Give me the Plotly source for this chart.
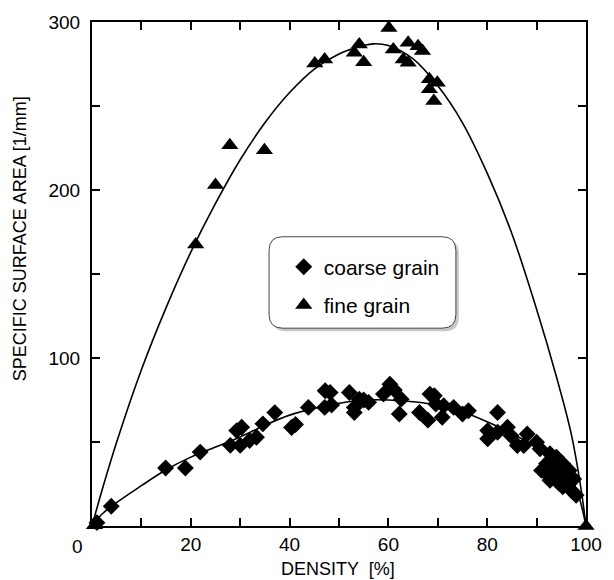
import plotly.graph_objects as go

# ---------------- data ----------------
coarse_x = [1, 3.9, 14.9, 18.9, 21.9, 28, 29.3, 30.3, 30, 31.9, 33.3, 34.6, 37, 40.4, 41.2,
            43.8, 47.2, 48.2, 47.1, 48.5, 52.1, 53.1, 54.1, 56, 53.1, 55, 59, 60.3, 61.2,
            62.6, 62.2, 66.3, 68.4, 69.3, 68, 70.9, 71.2, 69.6, 73.2, 75, 76.2, 82.1, 80.1,
            80.1, 82.1, 84.1, 84.8, 86.1, 88.1, 87.4, 90, 90.7, 92.7, 93.3, 94, 91, 92, 94,
            95.3, 94.7, 96, 96.6, 95.3, 97, 98, 92, 92.7, 93.5, 95, 96.5, 97.5, 94.5]
coarse_y = [2, 11.8, 34.5, 34.5, 44, 48, 56.8, 58.8, 48, 50.9, 52.8, 60.8, 67.5, 58.6, 60.4,
            70.6, 80.5, 79.5, 70.6, 72, 79.5, 70.6, 75.5, 73.6, 67.6, 75, 78.5, 84.4, 81,
            75.5, 66.7, 67.6, 78.5, 77.5, 63, 64.7, 71.6, 72.6, 70.6, 66.7, 68.6, 67.6, 56.8,
            51.9, 55.8, 58.8, 53.8, 47.9, 54.8, 47.9, 49.9, 46, 43, 39, 41, 33.1, 31.2, 35.1,
            37.1, 29.2, 27.2, 33.1, 23.3, 21.3, 18.3, 37.1, 27.2, 33, 30, 25, 28, 25.5]

fine_x = [0.5, 21, 25, 27.9, 34.9, 45.1, 47.1, 54.1, 53.1, 55, 60.1, 61, 64, 66, 66.9,
          63, 64, 68.3, 69.9, 68.3, 69.2, 100]
fine_y = [0.5, 167.5, 203, 226.6, 223.7, 275.3, 277.7, 286.6, 281.7, 276, 296.4, 283.6,
          287.6, 285.6, 282.7, 277.7, 275.7, 265.9, 263.9, 260, 253, 0]

fine_curve_x = [0, 2, 5, 10, 15, 20, 25, 30, 35, 40, 45, 50, 55, 57, 60, 65, 70, 75, 80, 85, 90, 94, 97, 99, 100]
fine_curve_y = [0, 21, 50, 93, 130, 163, 192, 218, 240, 258, 272, 281, 286, 287, 286, 278, 262, 240,
                210, 174, 129, 89, 55, 22, 0]

coarse_curve_x = [0, 2, 5, 10, 15, 20, 25, 30, 35, 40, 45, 50, 55, 60, 65, 70, 75, 80, 85, 90, 95, 98, 100]
coarse_curve_y = [0, 7, 14, 24, 33.5, 41, 47, 53, 60, 66, 70, 73, 75, 75, 74, 72, 68, 62, 55, 47, 36, 22, 0]

x_tickvals = [0, 10, 20, 30, 40, 50, 60, 70, 80, 90, 100]
x_ticktext = ["", "", "20", "", "40", "", "60", "", "80", "", "100"]
y_tickvals = [0, 50, 100, 150, 200, 250, 300]
y_ticktext = ["", "", "100", "", "200", "", "300"]

series_names = ["coarse grain", "fine grain"]
x_title = "DENSITY  [%]"
y_title = "SPECIFIC SURFACE AREA [1/mm]"

FONT = "Liberation Sans, Arial, Helvetica, sans-serif"

fig = go.Figure()
fig.add_trace(go.Scatter(x=fine_curve_x, y=fine_curve_y, mode="lines", line=dict(color="black", width=1.6, shape="spline"),
                         showlegend=False, hoverinfo="skip"))
fig.add_trace(go.Scatter(x=coarse_curve_x, y=coarse_curve_y, mode="lines", line=dict(color="black", width=1.6, shape="spline"),
                         showlegend=False, hoverinfo="skip"))
fig.add_trace(go.Scatter(x=coarse_x, y=coarse_y, mode="markers", name=series_names[0], legendgroup="a",
                         marker=dict(symbol="diamond", size=13, color="black"), cliponaxis=False))
fig.add_trace(go.Scatter(x=fine_x, y=fine_y, mode="markers", name=series_names[1], legendgroup="b",
                         marker=dict(symbol="triangle-up", size=15, color="black"), cliponaxis=False))

L, R, T, B = 92, 17, 19, 54
W, H = 614, 580
pw, ph = W - L - R, H - T - B

def px(x):
    return (x - L) / pw

def py(y):
    return (H - B - y) / ph

def rrect(x0, y0, x1, y1, r):
    rx, ry = r / pw, r / ph
    a0, a1 = px(x0), px(x1)
    b0, b1 = py(y0), py(y1)  # b0 top (larger), b1 bottom
    return (f"M {a0+rx},{b0} L {a1-rx},{b0} Q {a1},{b0} {a1},{b0-ry} "
            f"L {a1},{b1+ry} Q {a1},{b1} {a1-rx},{b1} L {a0+rx},{b1} "
            f"Q {a0},{b1} {a0},{b1+ry} L {a0},{b0-ry} Q {a0},{b0} {a0+rx},{b0} Z")

shapes = [
    dict(type="path", xref="paper", yref="paper", path=rrect(276, 238, 467, 330, 14),
         fillcolor="#c8c8c8", line=dict(width=0), layer="above"),
    dict(type="path", xref="paper", yref="paper", path=rrect(273, 235, 464, 327, 14),
         fillcolor="white", line=dict(color="#444", width=1), layer="above"),
]

annotations = [
    dict(text="0", xref="paper", yref="paper", x=px(77), y=py(547), showarrow=False,
         font=dict(size=19, color="black", family=FONT), xanchor="center", yanchor="middle"),
    dict(text=x_title, xref="paper", yref="paper", x=px(343), y=py(569), showarrow=False,
         font=dict(size=18, color="black", family=FONT), xanchor="center", yanchor="middle"),
    dict(text=y_title, xref="paper", yref="paper", x=px(18), y=py(237), showarrow=False, textangle=-90,
         font=dict(size=18, color="black", family=FONT), xanchor="center", yanchor="middle"),
]

axis_common = dict(showline=True, linecolor="black", linewidth=2, mirror="ticks", ticks="inside",
                   ticklen=8, tickwidth=1.5, tickcolor="black", showgrid=False, zeroline=False,
                   tickfont=dict(size=19, color="black", family=FONT))

fig.update_layout(
    width=W, height=H, margin=dict(l=L, r=R, t=T, b=B),
    paper_bgcolor="white", plot_bgcolor="white",
    font=dict(family=FONT, color="black"),
    xaxis=dict(range=[0, 100], tickmode="array", tickvals=x_tickvals, ticktext=x_ticktext, **axis_common),
    yaxis=dict(range=[0, 300], tickmode="array", tickvals=y_tickvals, ticktext=y_ticktext,
               ticklabelstandoff=6, **axis_common),
    showlegend=True,
    legend=dict(x=px(288), y=py(245), xanchor="left", yanchor="top", bgcolor="rgba(0,0,0,0)",
                borderwidth=0, font=dict(size=21, color="black", family=FONT), tracegroupgap=8),
    shapes=shapes, annotations=annotations,
)

fig.write_html("out.html", config={"displayModeBar": False},
               post_script="document.body.style.margin='0';document.body.style.padding='0';")
